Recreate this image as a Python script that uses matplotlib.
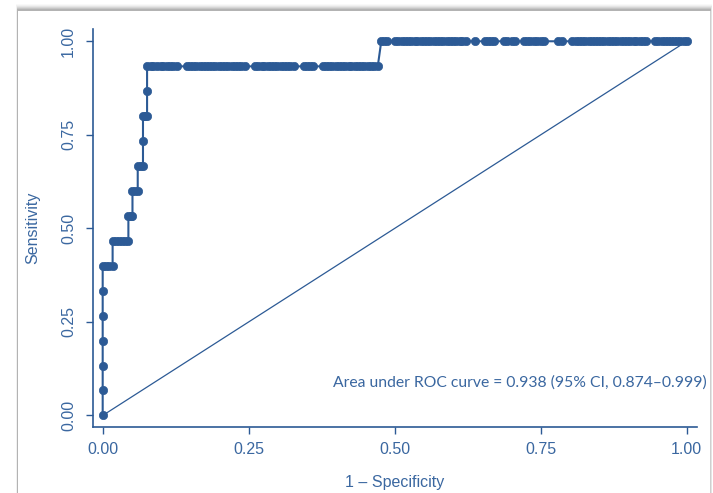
import matplotlib
matplotlib.use("Agg")
import matplotlib.pyplot as plt
from matplotlib.patches import Rectangle

# ---------------- data ----------------
sens_levels = [0.000, 0.067, 0.133, 0.200, 0.267, 0.333, 0.400, 0.467,
               0.533, 0.600, 0.667, 0.733, 0.800, 0.867, 0.933, 1.000]

fpr_low = [[0.0], [0.0], [0.0], [0.0], [0.0], [0.0]]          # sens 0.000 .. 0.333
fpr_040 = [0.000, 0.006, 0.011, 0.017]
fpr_047 = [0.017, 0.022, 0.028, 0.033, 0.039, 0.044]
fpr_053 = [0.044, 0.048, 0.051]
fpr_060 = [0.051, 0.056, 0.060]
fpr_067 = [0.060, 0.065, 0.069]
fpr_073 = [0.069]
fpr_080 = [0.069, 0.073, 0.076]
fpr_087 = [0.076]
fpr_093 = [0.076, 0.082, 0.087, 0.093, 0.099, 0.104, 0.110, 0.115, 0.121, 0.127,
           0.144, 0.149, 0.155, 0.160, 0.166, 0.171, 0.177, 0.182, 0.188, 0.193,
           0.199, 0.204, 0.210, 0.215, 0.221, 0.226, 0.232, 0.237, 0.243,
           0.261, 0.266, 0.272, 0.277, 0.283, 0.288, 0.294, 0.299, 0.305, 0.310,
           0.316, 0.321, 0.327,
           0.344, 0.349, 0.355, 0.360,
           0.377, 0.382, 0.388, 0.393, 0.399, 0.404, 0.410, 0.415, 0.421, 0.426,
           0.432, 0.437, 0.443, 0.448, 0.454, 0.459, 0.465, 0.471]
fpr_100 = [0.477, 0.482, 0.487,
           0.501, 0.506, 0.512, 0.517, 0.523, 0.528, 0.534, 0.539, 0.545, 0.550,
           0.556, 0.561, 0.567, 0.572, 0.578, 0.583, 0.589, 0.594, 0.600, 0.605,
           0.611, 0.616, 0.622,
           0.637,
           0.654, 0.659, 0.665, 0.670,
           0.687, 0.693, 0.700, 0.706,
           0.721, 0.727, 0.732, 0.738, 0.744, 0.750, 0.756,
           0.779, 0.787,
           0.804, 0.810, 0.815, 0.821, 0.826, 0.832, 0.837, 0.843, 0.848, 0.854,
           0.859, 0.865, 0.870, 0.876, 0.881, 0.887, 0.892, 0.898, 0.903, 0.909,
           0.914, 0.920, 0.925, 0.931,
           0.946, 0.951, 0.957, 0.962, 0.968, 0.973, 0.978, 0.984, 0.989, 0.995, 1.000]

fpr_rows = fpr_low + [fpr_040, fpr_047, fpr_053, fpr_060, fpr_067, fpr_073,
                      fpr_080, fpr_087, fpr_093, fpr_100]

x_ticks = [0.00, 0.25, 0.50, 0.75, 1.00]
x_tick_labels = ["0.00", "0.25", "0.50", "0.75", "1.00"]
y_ticks = [0.00, 0.25, 0.50, 0.75, 1.00]
y_tick_labels = ["0.00", "0.25", "0.50", "0.75", "1.00"]
auc_text = "Area under ROC curve = 0.938 (95% CI, 0.874\u20130.999)"
x_label = "1 \u2013 Specificity"
y_label = "Sensitivity"

# ---------------- build ----------------
roc_x, roc_y = [], []
for lvl, row in zip(sens_levels, fpr_rows):
    for f in row:
        roc_x.append(f)
        roc_y.append(lvl)

mark_col = "#2c5a95"
text_col = "#3a67a0"

plt.rcParams["font.family"] = ["Liberation Sans", "DejaVu Sans"]

fig = plt.figure(figsize=(7.13, 4.93), dpi=100)
fig.patch.set_facecolor("white")

# card with soft shadow
W, H = 713.0, 493.0
for i, a in enumerate([0.04, 0.06, 0.09, 0.13, 0.17, 0.22]):
    off = 7 - i
    fig.patches.append(Rectangle(((18 - off * 0.3) / W, 0), (692 + off * 0.6) / W, (482 + off) / H,
                                 transform=fig.transFigure, facecolor=(0.45, 0.45, 0.45, a),
                                 edgecolor="none", zorder=0))
fig.patches.append(Rectangle((18 / W, 0), 692 / W, 482 / H, transform=fig.transFigure,
                             facecolor="white", edgecolor="none", zorder=1))
fig.patches.append(Rectangle((709.5 / W, 0), 1.5 / W, 482 / H, transform=fig.transFigure,
                             facecolor="#cfcfcf", edgecolor="none", zorder=1))

ax = fig.add_axes([92.7 / W, 1 - 426.7 / H, (696.7 - 92.7) / W, (426.7 - 29.3) / H])
ax.set_zorder(5)
ax.set_facecolor("none")
ax.set_xlim(-0.0171, 1.0171)
ax.set_ylim(-0.030, 1.032)

ax.plot([0, 1], [0, 1], color=mark_col, lw=0.9, zorder=2)
ax.plot(roc_x, roc_y, color=mark_col, lw=1.5, zorder=3)
ax.plot(roc_x, roc_y, linestyle="none", marker="o", ms=6.0, mfc=mark_col,
        mec=mark_col, mew=0.5, zorder=4)

for s in ["top", "right"]:
    ax.spines[s].set_visible(False)
for s in ["left", "bottom"]:
    ax.spines[s].set_color(mark_col)
    ax.spines[s].set_linewidth(1.2)

ax.set_xticks(x_ticks)
ax.set_xticklabels(x_tick_labels)
ax.set_yticks(y_ticks)
ax.set_yticklabels(y_tick_labels, rotation=90, va="center")
ax.tick_params(axis="both", colors=mark_col, labelcolor=text_col, length=5, width=1.0,
               labelsize=11.5, direction="out")
ax.tick_params(axis="x", pad=6)
ax.tick_params(axis="y", pad=7)

fig.text(395 / W, 1 - 482 / H, x_label, ha="center", va="center", color=text_col,
         fontsize=11.5, zorder=6)
fig.text(33 / W, 1 - 228 / H, y_label, ha="center", va="center", color=text_col,
         fontsize=11.5, rotation=90, zorder=6)
fig.text(333 / W, 1 - 383 / H, auc_text, ha="left", va="center", color=text_col,
         fontsize=11.3, family=["Lato", "DejaVu Sans"], zorder=6)

fig.savefig("out.png", dpi=100)
